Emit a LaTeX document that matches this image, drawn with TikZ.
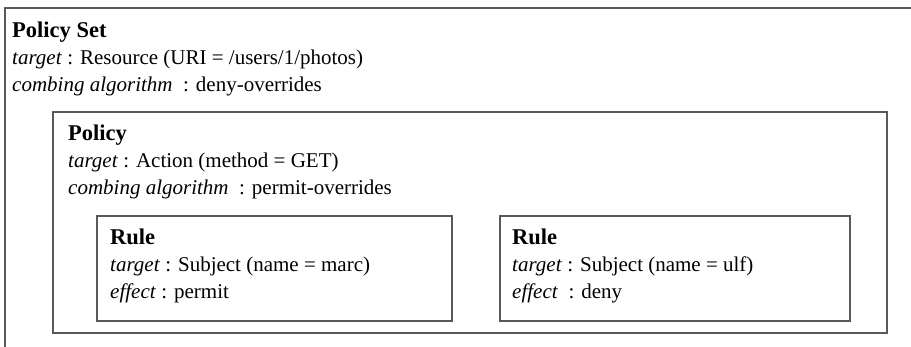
\documentclass[tikz,border=0pt]{standalone}
\usepackage{fontspec}
\setmainfont{Liberation Serif}
\begin{document}
\begin{tikzpicture}[x=1pt,y=-1pt,
  frame/.style={draw=black!65,line width=1.2pt},
  txt/.style={anchor=base west,inner sep=0pt,font=\fontsize{21}{25}\selectfont},
  ttl/.style={txt,font=\fontsize{22.5}{25}\selectfont\bfseries}]
\useasboundingbox (0,0) rectangle (911,346);
\begin{scope}
\clip (0,0) rectangle (911,346);
\draw[frame] (5,8) rectangle (930,370);
\end{scope}
\draw[frame] (53,112) rectangle (887,333);
\draw[frame] (97,216) rectangle (452,321);
\draw[frame] (500,216) rectangle (850,321);
% policy set
\node[ttl] (ps1) at (12,37) {Policy Set};
\node[txt] (ps2) at (12,64) {\textit{target} : Resource (URI = /users/1/photos)};
\node[txt] (ps3) at (12,91) {\textit{combing algorithm}\ \ : deny-overrides};
% policy
\node[ttl] (p1) at (68,140) {Policy};
\node[txt] (p2) at (68,167) {\textit{target} : Action (method = GET)};
\node[txt] (p3) at (68,194) {\textit{combing algorithm}\ \ : permit-overrides};
% rule 1
\node[ttl] (r1) at (110,244) {Rule};
\node[txt] (r2) at (110,271) {\textit{target} : Subject (name = marc)};
\node[txt] (r3) at (110,298) {\textit{effect} : permit};
% rule 2
\node[ttl] (s1) at (512,244) {Rule};
\node[txt] (s2) at (512,271) {\textit{target} : Subject (name = ulf)};
\node[txt] (s3) at (512,298) {\textit{effect}\ \ : deny};
\end{tikzpicture}
\end{document}
